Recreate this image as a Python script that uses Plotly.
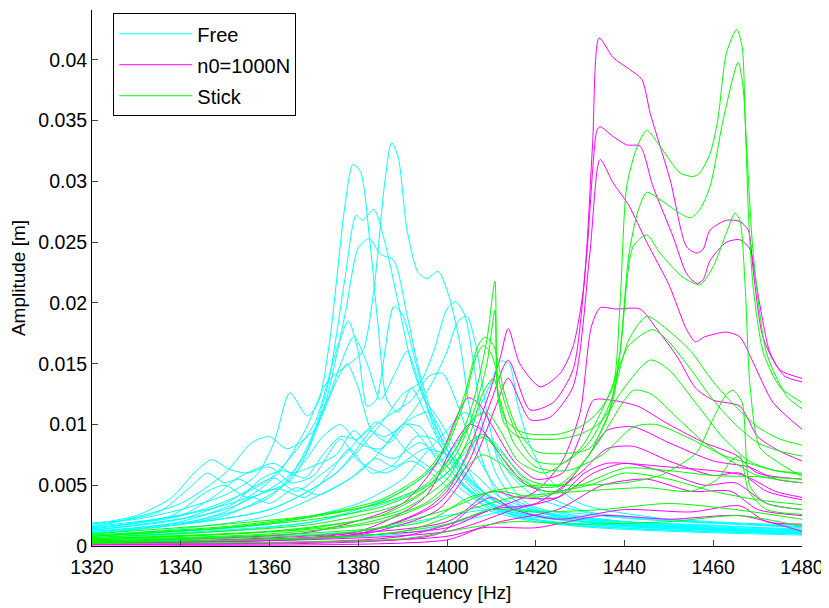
import plotly.graph_objects as go

# Amplitudes in units of 1e-3 m, frequencies in Hz: (frequency, amplitude) key points per curve
free_curves = [
    [(1320,1.6),(1340,2.5),(1355,4.0),(1362,6.0),(1368,9.5),(1373,13.5),(1378,15.0),(1381,16.0),(1383.5,21.0),(1386,30.0),(1387.5,33.2),(1389,32.0),(1391,26.0),(1393.5,22.5),(1395.5,22.0),(1398,22.6),(1400.5,20.5),(1403,16.5),(1405,11.5),(1408,7.0),(1412,4.0),(1420,2.5),(1440,1.8),(1480,1.2)],
    [(1320,1.9),(1330,2.2),(1340,3.0),(1350,4.2),(1357,5.8),(1361,8.5),(1364.6,12.6),(1368.5,10.7),(1371,11.8),(1373.5,16.7),(1377,28.0),(1378.8,31.4),(1380.5,30.8),(1382.5,25.5),(1384.5,18.0),(1386.5,12.0),(1389,11.0),(1392,13.0),(1395,11.0),(1399,8.0),(1405,4.5),(1415,2.5),(1440,1.6),(1480,1.1)],
    [(1320,1.2),(1345,2.2),(1360,4.0),(1368,7.5),(1373,13.0),(1377,22.0),(1379.5,27.2),(1381,26.8),(1383.5,27.7),(1386,25.0),(1389,20.0),(1392,15.0),(1395,12.0),(1398,10.5),(1402,8.0),(1408,4.5),(1420,2.2),(1480,1.0)],
    [(1320,1.0),(1350,2.5),(1365,5.5),(1372,11.0),(1377,19.0),(1380,24.5),(1382.5,25.3),(1385,24.0),(1388,23.5),(1391,19.0),(1394,14.0),(1398,9.5),(1405,5.0),(1415,2.5),(1480,1.2)],
    [(1320,1.4),(1345,3.0),(1360,5.5),(1370,10.0),(1375,16.0),(1377.8,18.5),(1380,16.0),(1382,11.5),(1384,12.0),(1388,19.7),(1390,19.0),(1393,15.0),(1396,11.0),(1400,8.0),(1406,5.0),(1420,2.5),(1480,1.2)],
    [(1320,1.3),(1350,3.0),(1365,6.0),(1373,12.0),(1379,17.2),(1382,15.0),(1385,12.0),(1388,14.0),(1391,16.0),(1394,13.0),(1398,9.0),(1404,6.0),(1412,3.5),(1440,1.8),(1480,1.0)],
    [(1320,1.5),(1340,3.5),(1350,6.0),(1356,8.5),(1360,9.0),(1364,8.0),(1370,9.5),(1375,13.5),(1377.5,15.0),(1380,13.0),(1383,9.5),(1387,8.5),(1391,10.0),(1395,8.5),(1400,6.0),(1410,3.5),(1430,2.0),(1480,1.1)],
    [(1320,1.0),(1360,3.0),(1375,6.0),(1385,10.0),(1390,12.5),(1394,13.5),(1397,16.0),(1400,19.5),(1402,20.1),(1404,19.0),(1406,15.0),(1408,10.0),(1411,6.0),(1416,3.5),(1430,2.0),(1480,1.2)],
    [(1320,0.8),(1360,2.5),(1380,6.0),(1390,10.0),(1396,13.0),(1400,16.0),(1402.5,18.5),(1404.5,18.9),(1406.5,16.5),(1409,11.0),(1412,6.5),(1418,3.5),(1440,2.0),(1480,1.2)],
    [(1320,0.6),(1370,2.0),(1390,4.5),(1400,7.5),(1406,10.5),(1410,13.5),(1412,15.2),(1414,15.0),(1416,11.5),(1419,8.0),(1423,5.5),(1430,3.5),(1450,2.2),(1480,1.6)],
    [(1320,1.8),(1330,2.5),(1338,4.0),(1343,6.0),(1347,7.1),(1351,6.3),(1355,6.0),(1360,6.5),(1365,5.2),(1370,5.8),(1376,8.8),(1380,7.0),(1386,6.0),(1392,7.0),(1398,5.5),(1405,3.5),(1420,2.0),(1480,1.0)],
    [(1320,1.7),(1335,2.8),(1342,4.8),(1346,6.0),(1350,5.2),(1356,6.2),(1361,6.8),(1365,6.0),(1370,6.6),(1375,7.5),(1379,9.5),(1383,8.0),(1388,7.2),(1394,8.5),(1400,6.5),(1408,3.5),(1425,1.8),(1480,0.9)],
    [(1320,1.5),(1340,2.5),(1348,4.2),(1353,5.5),(1358,4.5),(1363,5.0),(1368,7.0),(1372,9.0),(1376,10.0),(1380,8.5),(1385,8.0),(1390,10.0),(1394,9.8),(1398,7.5),(1404,5.0),(1412,3.0),(1440,1.8),(1480,1.1)],
    [(1320,1.3),(1340,2.2),(1350,3.5),(1357,5.0),(1361,5.6),(1366,4.5),(1372,6.0),(1377,7.5),(1382,9.5),(1386,9.0),(1392,10.5),(1396,11.0),(1400,8.5),(1405,5.5),(1412,3.5),(1440,2.0),(1480,1.3)],
    [(1320,1.4),(1338,2.5),(1346,4.5),(1350,5.0),(1355,4.0),(1362,4.7),(1368,4.0),(1374,6.2),(1378,8.0),(1383,6.0),(1388,6.7),(1393,9.0),(1397,8.8),(1402,6.5),(1408,4.2),(1420,2.5),(1480,1.2)],
    [(1320,1.2),(1340,1.8),(1350,2.8),(1356,4.0),(1360,3.5),(1366,4.8),(1371,4.2),(1378,5.5),(1384,7.2),(1388,6.5),(1395,8.0),(1400,7.5),(1406,6.0),(1412,4.0),(1425,2.5),(1480,1.4)],
    [(1320,1.1),(1340,2.0),(1352,3.5),(1358,5.5),(1363,6.2),(1368,5.6),(1372,7.5),(1376,9.0),(1380,8.8),(1384,10.2),(1387,9.5),(1391,7.8),(1396,6.5),(1402,5.0),(1410,3.0),(1440,1.7),(1480,1.0)],
    [(1320,0.8),(1360,1.8),(1380,3.5),(1390,5.5),(1396,8.0),(1400,9.5),(1404,11.0),(1407,10.0),(1410,8.5),(1414,6.0),(1420,4.0),(1435,2.5),(1480,1.6)],
    [(1320,0.7),(1370,2.0),(1390,4.0),(1400,6.0),(1406,8.5),(1409,9.0),(1412,8.0),(1416,6.0),(1422,4.2),(1432,2.8),(1460,2.0),(1480,1.7)],
    [(1320,0.5),(1380,1.2),(1400,2.5),(1410,3.0),(1420,2.5),(1440,2.0),(1460,1.7),(1480,1.3)],
    [(1320,0.4),(1390,1.0),(1405,2.2),(1415,3.0),(1425,2.8),(1445,2.2),(1465,1.8),(1480,1.5)],
    [(1320,1.0),(1360,3.0),(1375,6.0),(1384,10.0),(1388,11.0),(1392,12.0),(1396,14.0),(1399,14.2),(1402,12.0),(1406,8.0),(1412,4.5),(1425,2.5),(1480,1.2)],
]

n0_curves = [
    [(1320,0.3),(1380,1.0),(1395,3.0),(1400,4.5),(1405,8.0),(1409,12.0),(1412,15.5),(1413.8,17.9),(1416.4,15.0),(1421,13.1),(1425.5,14.2),(1428.4,16.4),(1430.8,21.3),(1432.8,33.0),(1434.3,41.8),(1437.4,40.2),(1441.2,39.2),(1443.9,38.4),(1445.8,35.6),(1450.3,30.1),(1454,24.6),(1456.3,24.1),(1457.7,24.4),(1459.3,26.0),(1463,26.8),(1466,26.7),(1467.9,26.0),(1469,22.7),(1471.2,17.2),(1475,14.5),(1480,13.8)],
    [(1320,0.3),(1380,1.0),(1398,3.5),(1405,7.0),(1410,12.0),(1413.8,15.3),(1418.7,11.2),(1423.9,11.8),(1428.4,14.5),(1431.5,24.1),(1433.8,34.2),(1434.5,34.5),(1437.4,33.7),(1440.5,33.0),(1443.5,32.9),(1446.4,29.6),(1451,25.4),(1454,22.4),(1456.3,21.6),(1457.7,21.9),(1459.3,23.5),(1463,25.0),(1466,25.2),(1468.3,24.4),(1469.8,21.3),(1472.8,15.9),(1476,14.0),(1480,13.5)],
    [(1320,0.3),(1380,0.9),(1398,3.0),(1406,7.0),(1411,11.5),(1413.8,13.8),(1418.7,10.4),(1423.2,10.6),(1428.4,13.1),(1432.2,24.1),(1434.5,31.8),(1437.4,29.9),(1441,28.0),(1445,25.0),(1450,21.5),(1454,17.8),(1456,16.8),(1458,17.2),(1463,17.6),(1466,17.2),(1469,15.1),(1473.5,11.8),(1480,9.6)],
    [(1320,0.2),(1390,0.8),(1410,3.0),(1420,4.5),(1426,7.0),(1430,11.0),(1432.5,18.0),(1434.5,19.6),(1438,19.5),(1443.5,19.5),(1447,18.0),(1452,15.5),(1456,13.0),(1460,12.0),(1466,11.5),(1470,9.0),(1475,7.8),(1480,7.0)],
    [(1320,0.4),(1370,1.2),(1390,3.5),(1398,7.0),(1402,10.5),(1404.7,12.2),(1407,11.8),(1410,10.0),(1415,7.0),(1420,5.5),(1426,6.0),(1430,9.0),(1433,12.0),(1437,12.0),(1443,11.5),(1450,10.0),(1458,8.5),(1465,7.5),(1470,6.0),(1480,5.5)],
    [(1320,0.3),(1380,1.2),(1395,4.0),(1401,8.0),(1405,10.0),(1408,9.5),(1412,7.5),(1418,5.0),(1425,4.5),(1432,7.5),(1436,9.5),(1442,9.8),(1450,8.5),(1460,7.0),(1468,6.5),(1474,5.5),(1480,5.2)],
    [(1320,0.2),(1400,1.5),(1410,3.0),(1420,3.5),(1430,6.0),(1436,8.0),(1442,8.2),(1450,7.0),(1460,5.8),(1466,6.0),(1472,4.5),(1480,3.8)],
    [(1320,0.2),(1400,2.0),(1410,4.5),(1416,4.0),(1425,4.0),(1433,6.0),(1440,6.8),(1448,6.2),(1458,5.0),(1465,5.2),(1472,3.5),(1480,3.0)],
    [(1320,0.1),(1400,0.8),(1412,2.0),(1425,3.0),(1435,5.0),(1445,5.5),(1455,4.5),(1464,4.5),(1470,3.0),(1480,2.5)],
    [(1320,0.2),(1398,1.0),(1405,3.0),(1410,4.0),(1415,3.0),(1425,2.2),(1440,3.0),(1455,2.8),(1466,3.3),(1472,2.0),(1480,1.8)],
    [(1320,0.1),(1400,0.5),(1408,1.5),(1420,1.5),(1435,2.5),(1450,2.2),(1466,2.5),(1480,1.2)],
    [(1320,0.2),(1400,1.2),(1415,3.0),(1425,4.0),(1431,6.0),(1436,6.8),(1450,6.5),(1460,6.2),(1467,5.8),(1474,4.5),(1480,4.0)],
]

stick_curves = [
    [(1320,1.0),(1350,1.8),(1370,2.5),(1385,3.5),(1395,5.0),(1402,8.0),(1406,12.0),(1409,17.0),(1410.8,21.8),(1411.4,13.0),(1413,10.5),(1416,9.5),(1419,9.2),(1425,9.2),(1430,9.8),(1434,11.0),(1437.4,13.1),(1439,20.0),(1440.5,29.6),(1442.8,32.8),(1445,34.2),(1448,32.9),(1452.5,30.7),(1455.5,30.4),(1457,30.7),(1459.3,32.3),(1461,35.0),(1463,40.6),(1465.3,42.5),(1466.5,41.1),(1467.2,35.0),(1468,26.8),(1469,21.3),(1471.3,15.9),(1475,13.1),(1480,11.8)],
    [(1320,0.8),(1350,1.5),(1370,2.2),(1385,3.2),(1395,4.8),(1402,7.5),(1406,11.0),(1409,15.0),(1410.8,19.4),(1411.4,12.5),(1413,10.0),(1416,9.0),(1419,8.8),(1425,8.8),(1430,9.2),(1434,10.0),(1437,11.5),(1439,16.0),(1441,24.0),(1443,27.5),(1445,29.1),(1448,28.5),(1452,27.5),(1454.8,27.0),(1457,27.7),(1459.3,29.6),(1462.2,35.0),(1465.6,39.8),(1466.7,37.8),(1467.6,32.3),(1469,24.1),(1472,15.9),(1476.6,12.3),(1480,11.3)],
    [(1320,0.9),(1350,1.6),(1370,2.5),(1385,3.8),(1395,6.0),(1400,8.5),(1404,12.5),(1407,16.5),(1408.6,17.2),(1410.5,16.5),(1413,12.5),(1416,9.5),(1420,7.8),(1426,7.6),(1432,8.0),(1436,10.4),(1439,15.9),(1441.9,24.6),(1445,25.6),(1448,24.1),(1453.2,22.1),(1457,21.5),(1460,23.0),(1463,25.8),(1464.9,27.4),(1466,26.8),(1467.2,21.3),(1468.3,13.1),(1470.5,8.1),(1475,6.8),(1480,5.7)],
    [(1320,0.8),(1350,1.5),(1370,2.4),(1385,3.6),(1395,5.8),(1400,8.2),(1404,12.0),(1406.5,15.5),(1408.2,16.5),(1410,15.8),(1413,11.8),(1416,9.0),(1420,7.0),(1426,6.8),(1432,8.5),(1437,12.0),(1441,17.0),(1445,18.9),(1449,18.0),(1455,16.0),(1460,13.5),(1465,11.5),(1470,9.8),(1475,8.8),(1480,8.3)],
    [(1320,0.6),(1360,1.2),(1385,2.5),(1395,4.5),(1402,8.0),(1406,10.5),(1409,11.0),(1412,9.5),(1416,7.0),(1422,6.0),(1430,8.0),(1436,12.0),(1441,16.5),(1446.4,17.8),(1450,16.8),(1455,14.5),(1460,12.0),(1465,10.0),(1470,8.5),(1475,7.8),(1480,7.4)],
    [(1320,0.7),(1370,1.8),(1390,3.5),(1400,6.0),(1405,8.5),(1408,9.2),(1412,7.8),(1418,5.5),(1425,5.0),(1432,7.5),(1438,12.0),(1445.8,15.3),(1450,14.5),(1456,11.8),(1462,9.0),(1468,7.0),(1474,6.2),(1480,5.9)],
    [(1320,0.5),(1380,1.8),(1395,3.5),(1403,6.0),(1408,7.5),(1412,6.8),(1418,5.0),(1426,5.0),(1434,8.5),(1442,12.8),(1446,12.5),(1452,10.5),(1458,8.5),(1464,7.0),(1470,5.8),(1480,5.2)],
    [(1320,0.4),(1380,1.2),(1400,3.0),(1410,4.5),(1420,5.0),(1430,5.0),(1440,5.2),(1448,5.8),(1453,6.8),(1456.3,7.7),(1460,10.5),(1463,12.5),(1464.5,12.8),(1466.5,11.8),(1468.3,4.9),(1472,3.5),(1480,3.0)],
    [(1320,0.3),(1390,1.2),(1405,3.0),(1415,4.0),(1430,4.5),(1445,4.8),(1455,4.5),(1461,5.5),(1464,7.0),(1466,7.4),(1468,4.5),(1472,3.0),(1480,2.6)],
    [(1320,0.4),(1395,2.0),(1405,4.0),(1412,4.5),(1420,4.0),(1430,5.0),(1440,6.4),(1450,6.2),(1460,5.8),(1470,5.7),(1480,5.5)],
    [(1320,0.5),(1360,1.0),(1385,2.0),(1398,4.0),(1404,7.0),(1407,9.0),(1410,8.5),(1415,6.0),(1422,4.5),(1432,5.0),(1440,6.0),(1450,5.5),(1460,4.5),(1470,3.8),(1480,3.4)],
    [(1320,0.3),(1380,0.8),(1400,1.8),(1410,3.0),(1420,2.8),(1435,3.0),(1450,3.5),(1465,3.0),(1480,2.2)],
    [(1320,0.2),(1390,0.6),(1405,1.5),(1415,2.0),(1430,1.8),(1450,2.0),(1466,2.5),(1480,1.6)],
    [(1320,0.6),(1370,1.5),(1390,3.0),(1400,5.5),(1405,9.0),(1408,12.5),(1410.4,13.8),(1412,12.0),(1415,8.5),(1420,6.5),(1427,6.2),(1435,7.5),(1442,9.8),(1447,10.0),(1455,8.8),(1462,7.5),(1468,6.8),(1474,6.2),(1480,6.0)],
]

series = [
    ("Free", "rgb(0,255,255)", free_curves),
    ("n0=1000N", "rgb(255,0,255)", n0_curves),
    ("Stick", "rgb(0,255,0)", stick_curves),
]

y_ticks = [0, 0.005, 0.01, 0.015, 0.02, 0.025, 0.03, 0.035, 0.04]
y_labels = ["0", "0.005", "0.01", "0.015", "0.02", "0.025", "0.03", "0.035", "0.04"]
x_ticks = [1320, 1340, 1360, 1380, 1400, 1420, 1440, 1460, 1480]

fig = go.Figure()
for name, color, curves in series:
    for i, c in enumerate(curves):
        fig.add_trace(go.Scatter(
            x=[p[0] for p in c],
            y=[p[1] * 1e-3 for p in c],
            mode="lines",
            line=dict(color=color, width=1, shape="spline", smoothing=0.7),
            name=name, legendgroup=name, showlegend=(i == 0),
            hoverinfo="skip",
        ))

font = "Liberation Sans, Arial, sans-serif"
fig.update_layout(
    width=821, height=600,
    margin=dict(l=84, r=27, t=2, b=62),
    paper_bgcolor="white", plot_bgcolor="white",
    font=dict(family=font, size=19, color="black"),
    showlegend=True,
    legend=dict(x=0.03, y=0.994, xanchor="left", yanchor="top",
                bgcolor="white", bordercolor="black", borderwidth=1,
                font=dict(size=20, family=font), tracegroupgap=2,
                itemwidth=73),
    xaxis=dict(range=[1320, 1480], tickvals=x_ticks, ticks="inside", ticklen=6,
               showline=True, linecolor="black", linewidth=1, showgrid=False,
               zeroline=False, ticklabelstandoff=4,
               title=dict(text="Frequency [Hz]", font=dict(size=19), standoff=8),
               tickfont=dict(size=19.5)),
    yaxis=dict(range=[0, 0.0441], tickvals=y_ticks, ticktext=y_labels, ticks="inside",
               ticklen=6, showline=True, linecolor="black", linewidth=1, showgrid=False,
               zeroline=False,
               title=dict(text="Amplitude [m]", font=dict(size=19), standoff=10),
               tickfont=dict(size=19.5)),
)
fig.write_html("out.html")
